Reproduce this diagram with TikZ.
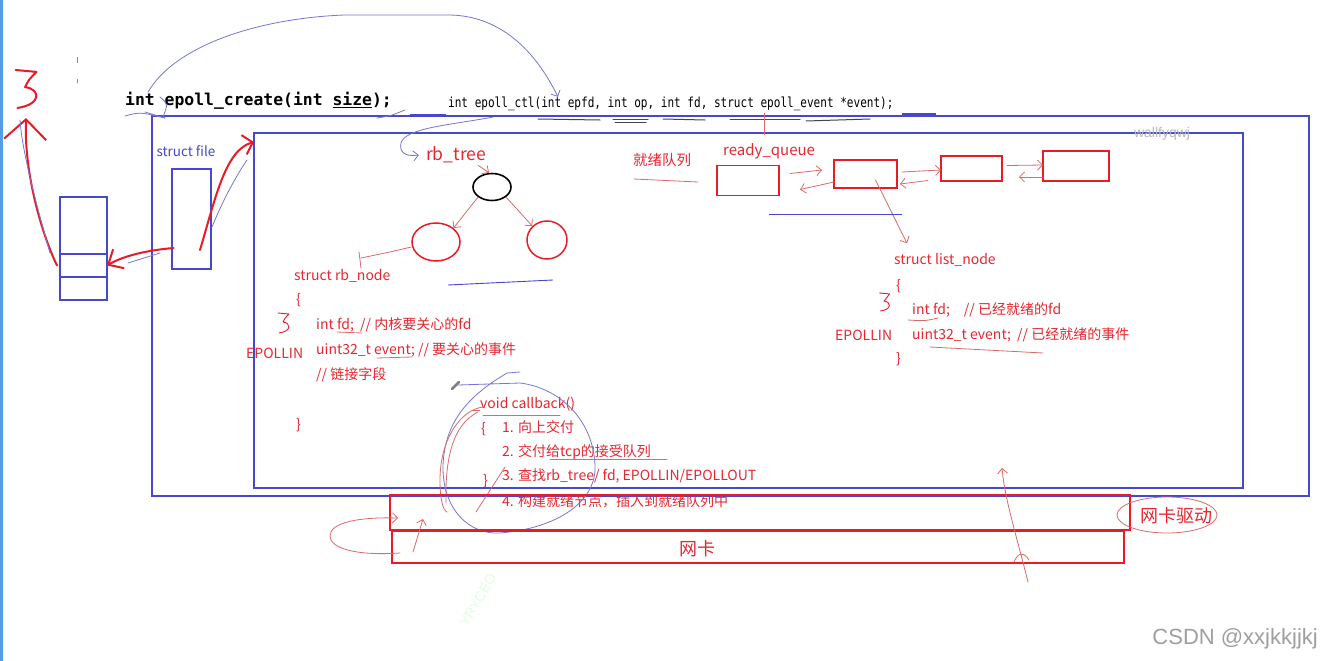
\documentclass[tikz,border=0pt]{standalone}
\usepackage{fontspec}
\setmainfont{Noto Sans CJK SC}
\newfontfamily\codefont{DejaVu Sans Mono}
\newfontfamily\ctlfont[FakeStretch=0.8]{DejaVu Sans Mono}
\newfontfamily\wmfont{Liberation Sans}
\usetikzlibrary{arrows.meta,shapes.geometric}
\definecolor{boxblue}{RGB}{70,72,205}
\definecolor{penred}{RGB}{232,28,38}
\definecolor{txtred}{RGB}{228,40,46}
\definecolor{thinred}{RGB}{222,105,105}
\definecolor{thinblue}{RGB}{118,118,212}
\definecolor{markgray}{RGB}{70,70,70}
\definecolor{edgeblue}{RGB}{80,160,225}
\tikzset{
  bluebox/.style={draw=boxblue, line width=1.8pt, inner sep=0pt, outer sep=0pt},
  redbox/.style={draw=penred, line width=1.8pt, inner sep=0pt, outer sep=0pt},
  rtext/.style={text=txtred, inner sep=0pt, anchor=west, font=\fontsize{14}{16}\selectfont},
  penstroke/.style={draw=penred, line width=2pt, line cap=round, line join=round},
  thinpen/.style={draw=thinred, line width=0.8pt, line cap=round},
  thinblueline/.style={draw=thinblue, line width=0.8pt, line cap=round},
  hbarb/.style={-{Straight Barb[length=5pt,width=10pt]}},
  graymark/.style={draw=markgray, line width=1pt, line cap=round},
  threemark/.pic={\draw[draw=penred, line cap=round, line join=round] (-6,-10) -- (5,-9) .. controls (1,-5) .. (-1,-1) .. controls (7,0) and (8,8) .. (-5,10);}
}
\begin{document}
\begin{tikzpicture}[x=1pt,y=-1pt]
\useasboundingbox (0,0) rectangle (1322,661);
\fill[white] (0,0) rectangle (1322,661);
\fill[edgeblue] (0,0) rectangle (2.5,661);

% main frames
\node[bluebox, minimum width=1157pt, minimum height=380pt] (outer) at (730.5,306) {};
\node[bluebox, minimum width=989pt, minimum height=355pt] (inner) at (748.5,310.5) {};

% left parts
\node[bluebox, line width=1.5pt, minimum width=39pt, minimum height=100pt] (filebox) at (191.5,219) {};
\node[bluebox, line width=1.5pt, minimum width=47pt, minimum height=57pt] (stacka) at (83.5,225.5) {};
\node[bluebox, line width=1.5pt, minimum width=47pt, minimum height=23pt] (stackb) at (83.5,265.5) {};
\node[bluebox, line width=1.5pt, minimum width=47pt, minimum height=23pt] (stackc) at (83.5,288.5) {};
\node[text=boxblue, inner sep=0pt, font=\fontsize{13.5}{15}\selectfont] (sfile) at (186,151) {struct file};

% code lines
\node[anchor=west, inner sep=0pt, font=\codefont\bfseries\fontsize{16.4}{18}\selectfont] (create) at (125,101) {int epoll\_create(int \underline{size});};
\node[anchor=west, inner sep=0pt, font=\ctlfont\fontsize{13.8}{15}\selectfont] (ctl) at (448,104) {int epoll\_ctl(int epfd, int op, int fd, struct epoll\_event *event);};
\draw[graymark] (538,119) -- (600,120);
\draw[graymark] (613,119) -- (648,119);
\draw[graymark] (615,122) -- (646,122);
\draw[graymark] (663,119) -- (705,120);
\draw[graymark] (730,119) -- (800,119);
\draw[graymark] (806,121) -- (870,119);
\draw[boxblue, line width=1.5pt] (410,115) -- (446,115);
\draw[boxblue, line width=1.5pt] (902,114) -- (936,114);
\draw[thinblueline] (377,118) .. controls (390,116) .. (405,110);
\draw[thinblueline] (125,116) .. controls (140,112) .. (165,118);
\draw[thinblueline] (145,112) -- (165,118);
\draw[thinblueline] (160,97) .. controls (168,104) .. (163,117);
\draw[thinred, line width=0.8pt] (764,113) -- (764,135);
\draw[thinred, line width=0.8pt] (77,57) -- (77,63);
\draw[thinred, line width=0.8pt] (77,79) -- (77,83);

% top arc epoll_create -> epoll_ctl
\draw[thinblueline, hbarb] ([xshift=23pt]create.north west) .. controls (175,45) and (260,18) .. (345,15) -- (450,15) .. controls (500,16) and (535,50) .. ([xshift=110pt]ctl.north west);

% left red arrows
\draw[penstroke, -{Straight Barb[length=9pt,width=20pt]}] ([xshift=8.5pt,yshift=-31pt]filebox.center) .. controls (215,200) and (225,150) .. ([yshift=-9pt]inner.north west);
\draw[penstroke, -{Straight Barb[length=12pt,width=22pt]}] ([xshift=-18pt,yshift=-29pt]filebox.center) .. controls (150,250) and (125,255) .. (stackb.east);
\draw[penstroke, -{Straight Barb[length=20pt,width=42pt]}] ([xshift=-3pt]stackb.west) .. controls (40,230) and (24,170) .. (26,118);
\pic[line width=2pt, scale=1.9] at (27,89) {threemark};
\draw[thinblueline] (50,253) .. controls (35,200) and (22,150) .. (20,120);
\draw[thinblueline] (212,227) .. controls (225,195) and (240,170) .. (247,160);
\draw[thinblueline] (128,263) -- (160,253);

% rb tree
\node[text=txtred, inner sep=0pt, font=\fontsize{17.5}{19}\selectfont] (rbtree) at (456,155) {rb\_tree};
\node[ellipse, draw=black, line width=1.6pt, minimum width=38pt, minimum height=27pt, inner sep=0pt] (root) at (492,187) {};
\node[ellipse, draw=penred, line width=1.5pt, minimum width=48pt, minimum height=38pt, inner sep=0pt] (lc) at (436,242) {};
\node[ellipse, draw=penred, line width=1.5pt, minimum width=40pt, minimum height=38pt, inner sep=0pt] (rc) at (547,240) {};
% epoll_ctl -> rb_tree
\draw[thinblueline, hbarb] ([xshift=45pt,yshift=-6pt]ctl.south west) .. controls (450,125) and (405,128) .. (401,143) .. controls (399,152) and (405,157) .. ([xshift=-7pt]rbtree.west);
\draw[thinpen, hbarb] (root.south west) -- (lc.north east);
\draw[thinpen, hbarb] (root.south east) -- (rc.north west);
\draw[thinpen, hbarb] ([xshift=-8pt,yshift=-2pt]rbtree.south east) -- ([xshift=-3pt]root.north);
\coordinate (rbhook) at (361,258);
\draw[thinpen] ([yshift=-5pt]lc.west) .. controls (390,252) .. (rbhook);
\draw[thinpen] (359,252) -- (361,268);
\draw[boxblue, line width=0.9pt] (448,285) -- (553,280);

% struct rb_node
\node[rtext] (rbnode) at (294,276) {struct rb\_node};
\node[rtext] (rbopen) at (296,300) {\{};
\node[rtext] (rbfd) at (316,325) {int fd;\ \ // 内核要关心的fd};
\node[rtext] (rbin) at (246,353) {EPOLLIN};
\node[rtext] (rbev) at (316,350) {uint32\_t event; // 要关心的事件};
\node[rtext] (rblink) at (316,375) {// 链接字段};
\node[rtext] (rbclose) at (296,425) {\}};
\draw[thinpen] (337,332) -- (362,333);
\draw[thinpen] (377,358) -- (412,357);
\pic[line width=0.9pt] at (284,323) {threemark};

% callback
\node[rtext] (cbhead) at (480,404) {void callback()};
\node[rtext] (cbopen) at (481,429) {\{};
\node[rtext] (cb1) at (502,427) {1. 向上交付};
\node[rtext] (cb2) at (502,452) {2. 交付给tcp的接受队列};
\node[rtext] (cb3) at (502,476) {3. 查找rb\_tree/ fd, EPOLLIN/EPOLLOUT};
\node[rtext] (cb4) at (502,501) {4. 构建就绪节点，插入到就绪队列中};
\node[rtext] (cbclose) at (483,481) {\}};
\draw[thinpen] (483,415) -- (560,415);
\draw[thinpen] (472,410) -- (480,410);
\draw[thinpen] (550,459) -- (667,459);
\draw[thinblueline] (520,372) -- (507,373) .. controls (470,395) and (445,420) .. (443,465) .. controls (442,510) and (470,535) .. (500,533) .. controls (560,528) and (597,500) .. (595,465) .. controls (593,420) and (560,388) .. (520,383) -- (458,385);
\draw[gray, line width=2.5pt, line cap=round] (452,389) -- (459,382);
\draw[thinpen] (483,407) .. controls (460,410) and (440,440) .. (440,480) .. controls (440,500) and (443,510) .. (447,512);
\draw[thinpen] (478,412) .. controls (452,425) and (445,460) .. (446,503);
\draw[thinpen] (476,512) -- (505,467);

% struct list_node
\node[rtext] (lnode) at (894,260) {struct list\_node};
\node[rtext] (lopen) at (896,286) {\{};
\node[rtext] (lfd) at (912,310) {int fd;\hspace{14pt}// 已经就绪的fd};
\node[rtext] (lin) at (835,335) {EPOLLIN};
\node[rtext] (lev) at (912,335) {uint32\_t event;\ \ // 已经就绪的事件};
\node[rtext] (lclose) at (896,359) {\}};
\draw[thinpen] (908,320) .. controls (925,321) .. (938,318);
\draw[thinpen] (930,347) -- (1043,353);
\pic[line width=0.9pt, scale=0.9] at (885,302) {threemark};

% ready queue
\node[rtext, font=\fontsize{14.5}{16}\selectfont] (rqcn) at (633,160) {就绪队列};
\node[rtext, font=\fontsize{15}{17}\selectfont] (rqen) at (723,151) {ready\_queue};
\draw[thinpen] (634,179) -- (698,182);
\node[redbox, minimum width=62pt, minimum height=30pt] (q1) at (748,180.5) {};
\node[redbox, minimum width=63pt, minimum height=28pt] (q2) at (865.5,174) {};
\node[redbox, minimum width=61pt, minimum height=25pt] (q3) at (971.5,168.5) {};
\node[redbox, minimum width=66pt, minimum height=30pt] (q4) at (1076,166) {};
\draw[thinpen, hbarb] ([xshift=11pt,yshift=7pt]q1.east) -- ([xshift=-12pt,yshift=4pt]q2.west);
\draw[thinpen, hbarb] ([yshift=-8pt]q2.west) -- ([xshift=21pt,yshift=-9pt]q1.east);
\draw[thinpen, hbarb] ([xshift=5pt,yshift=2pt]q2.east) -- ([yshift=-1.5pt]q3.west);
\draw[thinpen, hbarb] ([xshift=-13pt,yshift=-12pt]q3.west) -- ([xshift=3pt,yshift=-10pt]q2.east);
\draw[thinpen, hbarb] ([xshift=5pt,yshift=3pt]q3.east) -- ([yshift=1pt]q4.west);
\draw[thinpen, hbarb] ([yshift=-11pt]q4.west) -- ([xshift=17pt,yshift=-8.5pt]q3.east);
\draw[thinpen, hbarb] ([xshift=10pt,yshift=-6pt]q2.center) -- ([xshift=13pt,yshift=10pt]lnode.north west);
\draw[boxblue, line width=0.9pt] (769,214) -- (902,214);

% NIC driver and NIC
\node[redbox, minimum width=740pt, minimum height=35pt] (drv) at (760,512.5) {};
\node[redbox, line width=2.2pt, minimum width=732pt, minimum height=32pt] (nic) at (758,547) {};
\node[text=txtred, inner sep=0pt, font=\fontsize{18}{20}\selectfont] (niclabel) at (697,549) {网卡};
\node[ellipse, draw=thinred, line width=0.8pt, minimum width=100pt, minimum height=36pt, inner sep=0pt] (drvring) at (1167,515) {};
\node[text=txtred, inner sep=0pt, font=\fontsize{18}{20}\selectfont] (drvlabel) at (1176,516) {网卡驱动};
\coordinate (upstart) at (1028,582);
\draw[thinpen, hbarb] (upstart) .. controls (1015,530) and (1005,500) .. (1002,468);
\draw[thinpen] (1014,562) .. controls (1018,552) and (1024,552) .. (1029,560);
\draw[thinpen, hbarb] (400,553) .. controls (355,556) and (330,548) .. (330,536) .. controls (330,522) and (360,517) .. (398,518);
\draw[thinpen, hbarb] (413,552) -- (423,519);

% watermarks
\node[text=gray!55, inner sep=0pt, font=\wmfont\fontsize{14}{16}\selectfont] (wm) at (1162,134) {wallfyqwj};
\node[text=gray!75, inner sep=0pt, anchor=east, font=\wmfont\fontsize{22}{24}\selectfont] (csdn) at (1318,639) {CSDN @xxjkkjjkj};
\node[text=green!12, inner sep=0pt, rotate=60, font=\wmfont\fontsize{14}{16}\selectfont] (wmgreen) at (478,600) {YRYCEO};
\end{tikzpicture}
\end{document}
